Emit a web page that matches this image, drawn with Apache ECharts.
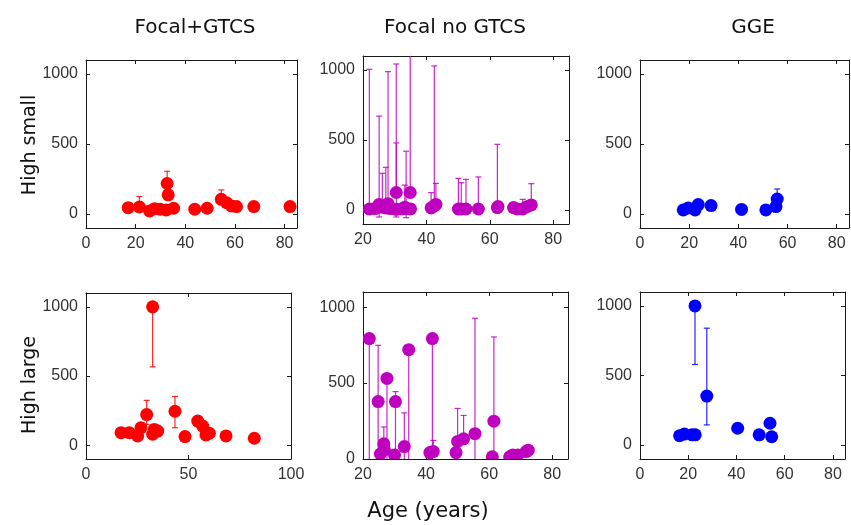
<!DOCTYPE html>
<html>
<head>
<meta charset="utf-8">
<script src="https://cdn.jsdelivr.net/npm/echarts@6/dist/echarts.min.js"></script>
<style>
  html, body { margin: 0; padding: 0; background: #fff; }
  #chart { width: 851px; height: 525px; }
</style>
</head>
<body>
<div id="chart"></div>
<script>
// Column and row headings
const groupNames = ['Focal+GTCS', 'Focal no GTCS', 'GGE'];
const rowNames = ['High small', 'High large'];
const xAxisName = 'Age (years)';

// Tick labels
const ageTicks = [0, 20, 40, 60, 80];
const ageTicksFrom20 = [20, 40, 60, 80];
const ageTicksWide = [0, 50, 100];
const countTicks = [0, 500, 1000];

// Focal+GTCS, high small: age, value, lower / upper error limits (null = no bar on that side)
const fgSmallAge = [17, 21.5, 25.6, 27.6, 29.9, 32.3, 35.3, 32.7, 33.1, 43.8, 48.8, 54.5, 56.6, 58.6, 60.6, 67.6, 82.2];
const fgSmallVal = [45, 50, 22, 38, 34, 29, 41, 218, 137, 34, 41, 105, 81, 58, 53, 53, 53];
const fgSmallLo  = [null, null, null, null, null, null, null, null, null, null, null, null, null, null, null, null, null];
const fgSmallHi  = [null, 125, null, null, null, null, null, 305, null, null, null, 172, null, null, null, null, null];

// Focal no GTCS, high small
const fnSmallAge = [22.0, 23.8, 25.1, 26.1, 27.2, 27.9, 28.6, 30.5, 30.5, 32.2, 33.6, 33.2, 34.9, 35.0, 41.5, 42.5, 43.0, 50.1, 51.0, 52.5, 56.4, 62.4, 62.6, 67.5, 68.6, 70.4, 71.7, 73.1];
const fnSmallVal = [7, 10, 40, 20, 15, 45, 10, 125, 5, 8, 10, 20, 125, 8, 15, 30, 40, 7, 7, 7, 7, 17, 25, 17, 7, 7, 24, 36];
const fnSmallLo  = [null, null, -50, null, null, null, null, null, -50, null, -55, null, null, null, null, null, null, null, null, null, null, null, null, null, null, null, null, null];
const fnSmallHi  = [1005, null, 671, 262, 305, 988, null, 1043, 479, null, 420, 178, 1250, null, 124, 1029, 190, 226, 195, 219, 236, 469, null, null, null, 76, null, 188];

// GGE, high small
const ggSmallAge = [17.6, 19.6, 22.4, 23.7, 28.9, 41.3, 51.2, 55.3, 55.8];
const ggSmallVal = [29, 43, 29, 67, 60, 33, 29, 53, 107];
const ggSmallLo  = [null, null, null, null, null, null, null, null, null];
const ggSmallHi  = [null, null, null, null, null, null, null, null, 179];

// Focal+GTCS, high large
const fgLargeAge = [32.5, 17.1, 21.1, 25.2, 26.8, 29.6, 32.5, 33.3, 35, 43.4, 48.3, 54.5, 56.9, 58.5, 60.2, 68.3, 82.1];
const fgLargeVal = [1000, 90, 90, 67, 126, 221, 79, 114, 102, 245, 62, 174, 138, 74, 86, 67, 50];
const fgLargeLo  = [566, null, null, null, null, 150, null, null, null, 126, null, null, null, null, null, null, null];
const fgLargeHi  = [null, null, null, null, null, 324, null, null, null, 352, null, null, null, null, null, null, null];

// Focal no GTCS, high large
const fnLargeAge = [22.0, 24.8, 25.5, 26.6, 26.8, 27.6, 30.3, 30.0, 33.1, 34.5, 41.2, 42.0, 42.3, 49.5, 50.0, 51.9, 55.5, 61.5, 61.0, 66.5, 67.5, 69.1, 71.7, 72.4];
const fnLargeVal = [793, 378, 33, 100, 60, 531, 378, 27, 82, 720, 42, 793, 49, 42, 116, 133, 167, 249, 15, 15, 27, 27, 49, 58];
const fnLargeLo  = [-150, -150, null, null, null, -150, -150, null, -150, -150, null, -150, null, null, null, null, -150, -150, null, null, null, null, null, null];
const fnLargeHi  = [null, 749, null, 211, null, null, 444, null, 304, null, null, null, 122, null, 333, 287, 927, 804, null, null, null, null, null, null];

// GGE, high large
const ggLargeAge = [16.4, 18.4, 21.6, 22.8, 22.9, 27.7, 40.5, 49.4, 53.9, 54.6];
const ggLargeVal = [67, 79, 74, 1000, 74, 352, 121, 74, 157, 60];
const ggLargeLo  = [null, null, null, 579, null, 145, null, null, null, null];
const ggLargeHi  = [null, null, null, null, null, 840, null, null, null, null];

const RED = '#ff0000', MAGENTA = '#bf00bf', BLUE = '#0000ff';
const AXIS_COLOR = '#1a1a1a';
const LABEL_COLOR = '#333333';

const panels = [
  { grid: { left: 86,  top: 60,  width: 211, height: 168 }, x: [0, 85],  xt: ageTicks,       y: [-100, 1100], age: fgSmallAge, val: fgSmallVal, lo: fgSmallLo, hi: fgSmallHi, color: RED },
  { grid: { left: 363, top: 56,  width: 206, height: 168 }, x: [20, 85], xt: ageTicksFrom20, y: [-100, 1100], age: fnSmallAge, val: fnSmallVal, lo: fnSmallLo, hi: fnSmallHi, color: MAGENTA },
  { grid: { left: 640, top: 60,  width: 209, height: 168 }, x: [0, 85],  xt: ageTicks,       y: [-100, 1100], age: ggSmallAge, val: ggSmallVal, lo: ggSmallLo, hi: ggSmallHi, color: BLUE },
  { grid: { left: 86,  top: 293, width: 205, height: 166 }, x: [0, 100], xt: ageTicksWide,   y: [-100, 1100], age: fgLargeAge, val: fgLargeVal, lo: fgLargeLo, hi: fgLargeHi, color: RED },
  { grid: { left: 363, top: 292, width: 205, height: 167 }, x: [20, 85], xt: ageTicksFrom20, y: [0, 1100],    age: fnLargeAge, val: fnLargeVal, lo: fnLargeLo, hi: fnLargeHi, color: MAGENTA },
  { grid: { left: 640, top: 292, width: 205, height: 167 }, x: [0, 85],  xt: ageTicks,       y: [-100, 1100], age: ggLargeAge, val: ggLargeVal, lo: ggLargeLo, hi: ggLargeHi, color: BLUE }
];

const grid = [], xAxis = [], yAxis = [], series = [];

function axisCommon(showLabels, ticks) {
  return {
    axisLine: { show: true, onZero: false, lineStyle: { color: AXIS_COLOR, width: 1 } },
    axisTick: { show: true, inside: true, length: 4, customValues: ticks, lineStyle: { color: AXIS_COLOR } },
    axisLabel: {
      show: showLabels, customValues: ticks, margin: 8,
      formatter: function (v) { return String(v); },
      fontFamily: 'Liberation Sans', fontSize: 16, color: LABEL_COLOR
    },
    splitLine: { show: false }
  };
}

panels.forEach((p, i) => {
  grid.push(Object.assign({ containLabel: false }, p.grid));
  // bottom / left axes carry the labels; top / right mirror the ticks to close the box
  xAxis.push(Object.assign({ type: 'value', gridIndex: i, position: 'bottom', min: p.x[0], max: p.x[1] }, axisCommon(true, p.xt)));
  xAxis.push(Object.assign({ type: 'value', gridIndex: i, position: 'top', min: p.x[0], max: p.x[1] }, axisCommon(false, p.xt)));
  yAxis.push(Object.assign({ type: 'value', gridIndex: i, position: 'left', min: p.y[0], max: p.y[1] }, axisCommon(true, countTicks)));
  yAxis.push(Object.assign({ type: 'value', gridIndex: i, position: 'right', min: p.y[0], max: p.y[1] }, axisCommon(false, countTicks)));

  const yMin = p.y[0], yMax = p.y[1];
  const bars = [];
  p.age.forEach((a, k) => {
    const lo = p.lo[k] == null ? p.val[k] : p.lo[k];
    const hi = p.hi[k] == null ? p.val[k] : p.hi[k];
    if (lo !== hi) bars.push([a, lo, hi]);
  });
  const pts = p.age.map((a, k) => [a, p.val[k]]);

  // vertical error bars with small end caps
  series.push({
    type: 'custom', xAxisIndex: 2 * i, yAxisIndex: 2 * i, clip: true, z: 2,
    data: bars,
    renderItem: function (params, api) {
      const x = api.value(0), lo = api.value(1), hi = api.value(2);
      const a = Math.max(lo, yMin), b = Math.min(hi, yMax + 50);
      const p0 = api.coord([x, a]), p1 = api.coord([x, b]);
      const st = { stroke: p.color, lineWidth: 1.2, opacity: 0.85 };
      const children = [{ type: 'line', shape: { x1: p0[0], y1: p0[1], x2: p1[0], y2: p1[1] }, style: st }];
      if (lo >= yMin) children.push({ type: 'line', shape: { x1: p0[0] - 3, y1: p0[1], x2: p0[0] + 3, y2: p0[1] }, style: st });
      if (hi <= yMax) children.push({ type: 'line', shape: { x1: p1[0] - 3, y1: p1[1], x2: p1[0] + 3, y2: p1[1] }, style: st });
      return { type: 'group', children: children };
    }
  });

  // filled circle markers
  series.push({
    type: 'custom', xAxisIndex: 2 * i, yAxisIndex: 2 * i, clip: true, z: 3,
    data: pts,
    renderItem: function (params, api) {
      const c = api.coord([api.value(0), api.value(1)]);
      return { type: 'circle', shape: { cx: c[0], cy: c[1], r: 6.5 }, style: { fill: p.color } };
    }
  });
});

const headingFont = { fontFamily: 'DejaVu Sans', fontSize: 20, fill: '#111' };
const graphic = [
  { type: 'text', x: 195, y: 28, style: Object.assign({ text: groupNames[0], align: 'center', verticalAlign: 'middle' }, headingFont) },
  { type: 'text', x: 455, y: 28, style: Object.assign({ text: groupNames[1], align: 'center', verticalAlign: 'middle' }, headingFont) },
  { type: 'text', x: 753, y: 28, style: Object.assign({ text: groupNames[2], align: 'center', verticalAlign: 'middle' }, headingFont) },
  { type: 'text', x: 30, y: 145, rotation: Math.PI / 2, style: Object.assign({ text: rowNames[0], align: 'center', verticalAlign: 'middle' }, headingFont, { fontSize: 19 }) },
  { type: 'text', x: 30, y: 385, rotation: Math.PI / 2, style: Object.assign({ text: rowNames[1], align: 'center', verticalAlign: 'middle' }, headingFont, { fontSize: 19 }) },
  { type: 'text', x: 428, y: 512, style: Object.assign({ text: xAxisName, align: 'center', verticalAlign: 'middle' }, headingFont, { fontSize: 21 }) }
];

const chart = echarts.init(document.getElementById('chart'), null, { renderer: 'canvas' });
chart.setOption({
  animation: false,
  backgroundColor: '#ffffff',
  grid: grid,
  xAxis: xAxis,
  yAxis: yAxis,
  series: series,
  graphic: graphic
});
</script>
</body>
</html>
